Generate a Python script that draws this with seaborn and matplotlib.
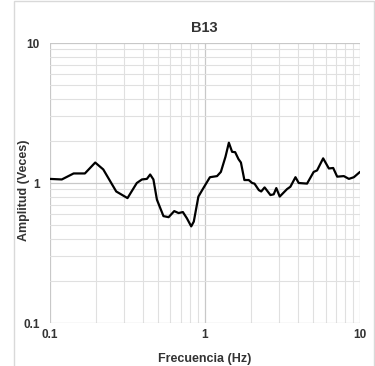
import matplotlib
matplotlib.use("Agg")
import matplotlib.pyplot as plt
import matplotlib.patches as mpatches
from matplotlib.ticker import LogLocator, FixedLocator, FixedFormatter, NullFormatter
import numpy as np
import pandas as pd
import seaborn as sns

# Spectral ratio curve
freq_hz = [0.100, 0.120, 0.143, 0.169, 0.197, 0.222, 0.269, 0.318, 0.365, 0.394,
           0.424, 0.445, 0.467, 0.492, 0.542, 0.585, 0.636, 0.678, 0.723, 0.767,
           0.818, 0.850, 0.910, 0.980, 1.080, 1.200, 1.270, 1.360, 1.430, 1.500,
           1.570, 1.650, 1.710, 1.800, 1.920, 2.020, 2.090, 2.230, 2.310, 2.430,
           2.650, 2.780, 2.890, 3.040, 3.390, 3.560, 3.840, 4.030, 4.560, 5.030,
           5.290, 5.790, 6.300, 6.720, 7.130, 7.870, 8.480, 9.130, 10.00]
amplitud = [1.07, 1.06, 1.17, 1.17, 1.40, 1.25, 0.87, 0.78, 1.00, 1.06,
            1.07, 1.15, 1.06, 0.76, 0.58, 0.57, 0.63, 0.61, 0.62, 0.56,
            0.49, 0.53, 0.80, 0.92, 1.10, 1.12, 1.20, 1.54, 1.94, 1.67,
            1.66, 1.48, 1.40, 1.05, 1.05, 1.00, 0.99, 0.89, 0.87, 0.93,
            0.82, 0.83, 0.92, 0.80, 0.905, 0.94, 1.10, 1.00, 0.99, 1.20,
            1.23, 1.50, 1.27, 1.28, 1.11, 1.12, 1.07, 1.10, 1.20]

title = "B13"
x_label = "Frecuencia (Hz)"
y_label = "Amplitud (Veces)"
tick_values = [0.1, 1, 10]
tick_labels = ["0.1", "1", "10"]

df = pd.DataFrame({"f": freq_hz, "a": amplitud})

sns.set_style("white")
plt.rcParams["font.family"] = ["Liberation Sans", "DejaVu Sans"]

fig = plt.figure(figsize=(3.75, 3.66), dpi=100)
ax = fig.add_axes([49.5 / 375, 1 - 323 / 366, (360 - 49.5) / 375, (323 - 43) / 366])

# outer chart frame (cropped at right/bottom in the reference)
fig.patches.append(mpatches.Rectangle((14 / 375, -0.1), 360 / 375, 1.1 - 1 / 366,
                                      transform=fig.transFigure, fill=False,
                                      edgecolor="#d9d9d9", linewidth=1.0))

sns.lineplot(data=df, x="f", y="a", ax=ax, color="black", linewidth=1.6)

ax.set_xscale("log")
ax.set_yscale("log")
ax.set_xlim(0.1, 10)
ax.set_ylim(0.1, 10)

for axis in (ax.xaxis, ax.yaxis):
    axis.set_major_locator(FixedLocator(tick_values))
    axis.set_major_formatter(FixedFormatter(tick_labels))
    axis.set_minor_locator(LogLocator(base=10, subs=np.arange(2, 10)))
    axis.set_minor_formatter(NullFormatter())

ax.grid(which="major", color="#c8c8c8", linewidth=0.9)
ax.grid(which="minor", color="#e0e0e0", linewidth=0.8)
ax.set_axisbelow(True)
for s in ax.spines.values():
    s.set_visible(False)
ax.tick_params(which="both", length=0)
ax.tick_params(axis="x", pad=4, labelsize=8.5)
ax.tick_params(axis="y", pad=7, labelsize=8.5)
for lbl in ax.get_xticklabels() + ax.get_yticklabels():
    lbl.set_fontweight("bold")
    lbl.set_color("#333333")

ax.set_xlabel(x_label, fontsize=9, fontweight="bold", color="#333333", labelpad=9)
ax.set_ylabel(y_label, fontsize=9, fontweight="bold", color="#333333")
ax.yaxis.set_label_coords(-0.062, 0.475)
ax.set_title(title, fontsize=10.5, fontweight="bold", color="#333333", pad=8)

fig.savefig("out.png", dpi=100)
